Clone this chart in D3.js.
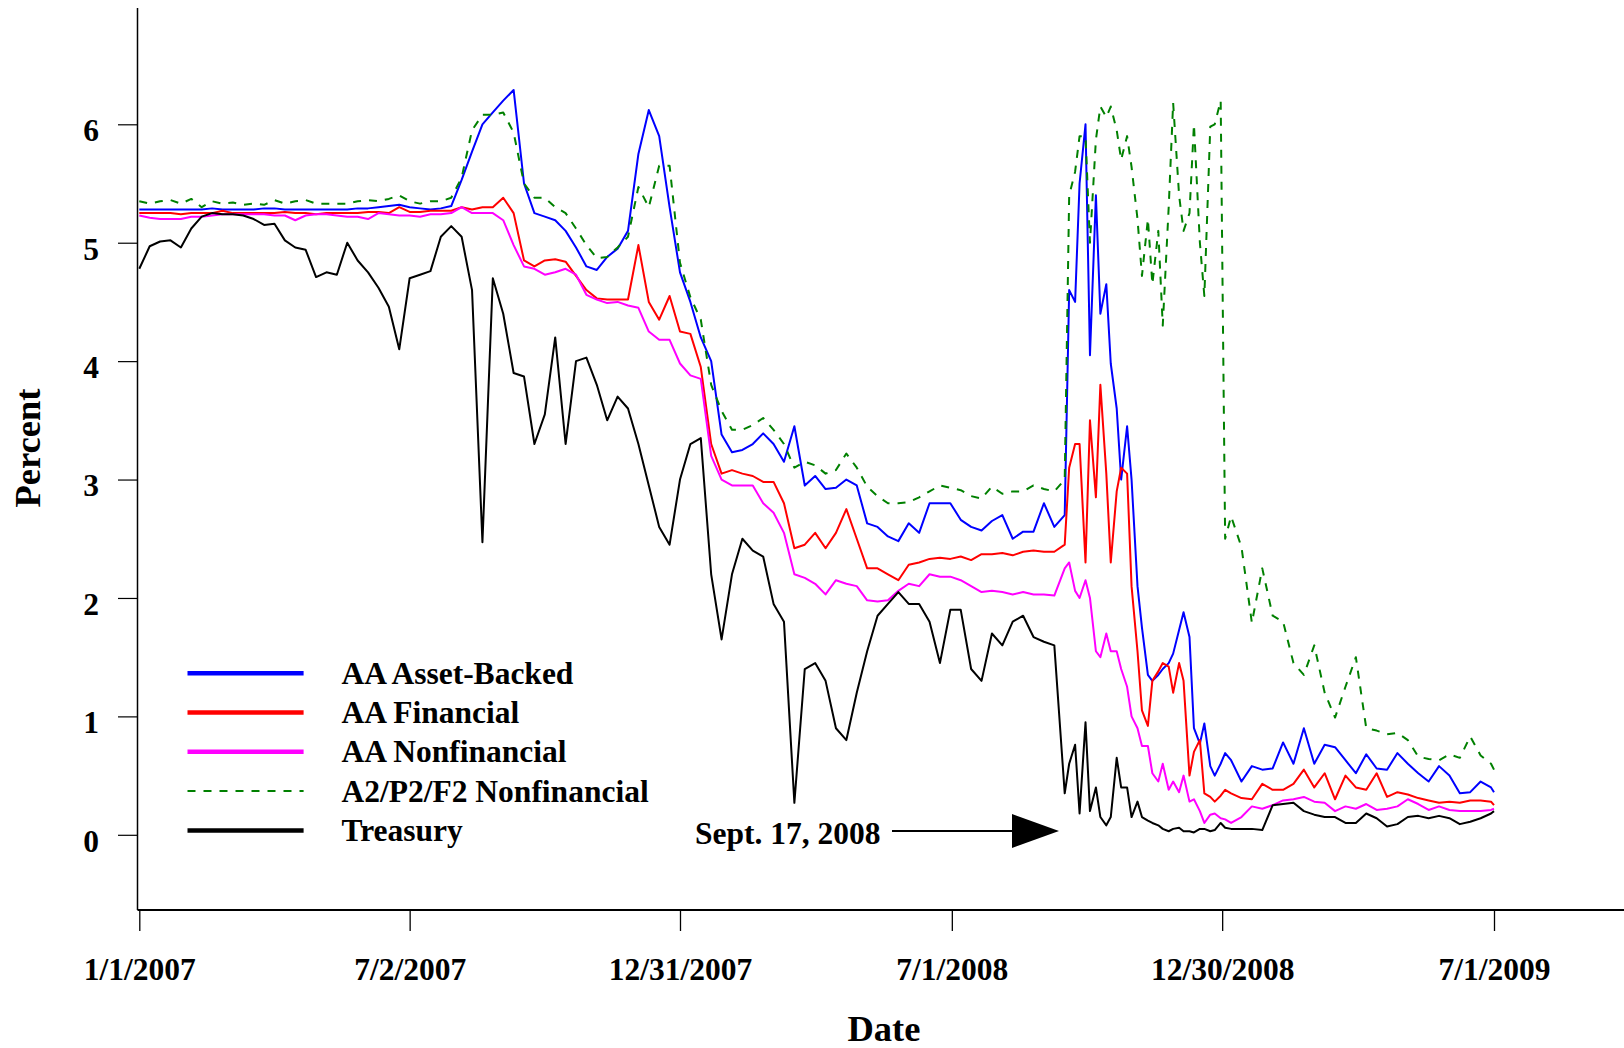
<!DOCTYPE html>
<html><head><meta charset="utf-8">
<script src="https://cdn.jsdelivr.net/npm/d3@7"></script>
<style>
html,body{margin:0;padding:0;background:#fff;}
svg{display:block;background:#fff;}
text{font-family:"Liberation Serif","Times New Roman",Times,serif;font-weight:bold;fill:#000;}
</style></head><body>
<svg id="chart" width="1624" height="1048"></svg>
<script>
// ---------- DATA ----------
const startDate = "2007-01-01";
// days since 1/1/2007 (weekly, twice weekly during the autumn 2008 turmoil)
const dayOffsets = [0,7,14,21,28,35,42,49,56,63,70,77,84,91,98,105,112,119,126,133,140,147,154,161,168,175,182,189,196,203,210,217,224,231,238,245,252,259,266,273,280,287,294,301,308,315,322,329,336,343,350,357,364,371,378,385,392,399,406,413,420,427,434,441,448,455,462,469,476,483,490,497,504,511,518,525,532,539,546,553,560,567,574,581,588,595,602,609,616,
623,626,630,633,637,640,644,647,651,654,658,661,665,668,672,675,679,682,686,689,693,696,700,703,707,710,714,717,721,724,728,731,735,
742,749,756,763,770,777,784,791,798,805,812,819,826,833,840,847,854,861,868,875,882,889,896,903,910,912];

const assetBacked = [5.28,5.28,5.28,5.28,5.28,5.28,5.28,5.29,5.28,5.28,5.28,5.28,5.29,5.29,5.28,5.28,5.28,5.28,5.28,5.28,5.28,5.29,5.29,5.30,5.31,5.32,5.30,5.29,5.28,5.29,5.31,
5.53,5.77,6.00,6.10,6.20,6.29,5.50,5.25,5.22,5.19,5.10,4.96,4.80,4.77,4.88,4.95,5.10,5.75,6.12,5.90,5.30,4.75,4.50,4.20,4.00,3.38,3.23,3.25,3.30,3.39,3.30,3.15,3.45,2.95,
3.03,2.92,2.93,3.00,2.95,2.63,2.60,2.52,2.48,2.63,2.55,2.80,2.80,2.80,2.66,2.60,2.57,2.65,2.70,2.50,2.56,2.56,2.80,2.60,
2.70,4.60,4.50,5.50,6.00,4.05,5.40,4.40,4.65,3.98,3.60,3.00,3.45,3.00,2.10,1.75,1.35,1.30,1.35,1.40,1.45,1.53,1.73,1.88,1.67,0.90,0.77,0.94,0.58,0.50,0.60,0.69,0.63,
0.45,0.58,0.55,0.56,0.78,0.60,0.90,0.60,0.76,0.74,0.63,0.52,0.68,0.56,0.55,0.69,0.60,0.52,0.45,0.58,0.50,0.35,0.36,0.45,0.40,0.36];

const financial = [5.25,5.25,5.25,5.25,5.24,5.25,5.25,5.25,5.27,5.25,5.25,5.25,5.25,5.25,5.26,5.25,5.25,5.24,5.25,5.25,5.25,5.25,5.26,5.26,5.25,5.30,5.26,5.26,5.27,5.27,5.27,
5.30,5.28,5.30,5.30,5.38,5.25,4.85,4.80,4.85,4.86,4.84,4.72,4.60,4.53,4.52,4.52,4.52,4.98,4.50,4.35,4.55,4.25,4.23,3.95,3.30,3.05,3.08,3.05,3.03,2.98,2.98,2.80,2.42,2.45,
2.55,2.42,2.55,2.75,2.50,2.25,2.25,2.20,2.15,2.28,2.30,2.33,2.34,2.33,2.35,2.32,2.37,2.37,2.38,2.36,2.39,2.40,2.39,2.39,
2.45,3.10,3.30,3.30,2.30,3.50,2.85,3.80,3.05,2.30,2.90,3.10,3.05,2.10,1.55,1.05,0.92,1.30,1.38,1.45,1.42,1.20,1.45,1.30,0.50,0.70,0.80,0.35,0.32,0.28,0.33,0.38,0.35,
0.31,0.30,0.43,0.38,0.38,0.43,0.55,0.40,0.52,0.30,0.50,0.40,0.38,0.52,0.32,0.36,0.34,0.31,0.29,0.27,0.28,0.27,0.29,0.29,0.28,0.25];

const nonfinancial = [5.23,5.21,5.20,5.20,5.20,5.22,5.22,5.23,5.24,5.24,5.24,5.24,5.24,5.23,5.23,5.19,5.23,5.24,5.24,5.23,5.22,5.22,5.20,5.25,5.24,5.23,5.23,5.22,5.24,5.24,5.25,
5.30,5.25,5.25,5.25,5.19,4.98,4.80,4.78,4.73,4.75,4.78,4.73,4.56,4.52,4.49,4.50,4.47,4.45,4.25,4.18,4.18,3.98,3.88,3.85,3.20,3.00,2.95,2.95,2.95,2.80,2.72,2.55,2.20,2.17,
2.12,2.03,2.15,2.12,2.10,1.98,1.97,1.98,2.06,2.12,2.10,2.20,2.18,2.18,2.15,2.10,2.05,2.06,2.05,2.03,2.05,2.03,2.03,2.02,
2.25,2.30,2.06,2.00,2.15,2.00,1.55,1.50,1.70,1.55,1.55,1.40,1.25,1.00,0.90,0.75,0.75,0.52,0.45,0.60,0.38,0.45,0.36,0.50,0.28,0.30,0.20,0.10,0.17,0.18,0.14,0.13,0.10,
0.15,0.24,0.22,0.25,0.29,0.30,0.32,0.28,0.27,0.20,0.24,0.22,0.26,0.21,0.22,0.24,0.30,0.26,0.21,0.24,0.21,0.20,0.20,0.20,0.21,0.22];

const a2p2Nonfinancial = [5.35,5.33,5.35,5.36,5.33,5.37,5.30,5.35,5.33,5.34,5.32,5.33,5.32,5.36,5.33,5.35,5.36,5.33,5.33,5.33,5.33,5.35,5.36,5.35,5.37,5.40,5.35,5.33,5.35,5.35,5.38,
5.55,5.95,6.08,6.08,6.10,5.93,5.50,5.38,5.38,5.30,5.25,5.12,4.98,4.87,4.88,4.96,5.05,5.47,5.30,5.65,5.65,4.83,4.54,4.35,3.80,3.58,3.42,3.42,3.46,3.52,3.42,3.30,3.10,3.15,
3.12,3.05,3.08,3.22,3.10,2.94,2.86,2.80,2.80,2.81,2.85,2.90,2.95,2.93,2.91,2.86,2.84,2.94,2.88,2.90,2.90,2.95,2.92,2.90,
3.00,5.40,5.60,5.90,5.90,5.00,5.87,6.15,6.06,6.15,5.95,5.70,5.90,5.64,5.20,4.72,5.20,4.65,5.10,4.30,5.30,6.18,5.40,5.10,5.25,6.00,5.00,4.55,5.98,6.00,6.20,2.50,2.69,
2.43,1.79,2.25,1.85,1.80,1.45,1.35,1.60,1.20,0.99,1.25,1.50,0.90,0.88,0.85,0.86,0.80,0.66,0.64,0.63,0.68,0.65,0.83,0.67,0.60,0.55];

const treasury = [4.78,4.97,5.01,5.02,4.96,5.12,5.22,5.25,5.24,5.24,5.23,5.20,5.15,5.16,5.02,4.96,4.94,4.71,4.75,4.73,5.00,4.85,4.75,4.62,4.46,4.10,4.70,4.73,4.76,5.05,5.14,5.05,
4.60,2.47,4.70,4.40,3.90,3.87,3.30,3.55,4.20,3.30,4.00,4.03,3.80,3.50,3.70,3.60,3.30,2.95,2.60,2.45,3.00,3.30,3.35,
2.20,1.65,2.20,2.50,2.40,2.35,1.95,1.80,0.27,1.40,
1.45,1.30,0.90,0.80,1.20,1.55,1.85,1.95,2.05,1.95,1.95,1.80,1.45,1.90,1.90,1.40,1.30,1.70,1.60,1.80,1.85,1.67,1.63,1.60,
0.35,0.60,0.76,0.18,0.95,0.20,0.40,0.15,0.08,0.15,0.65,0.40,0.40,0.15,0.28,0.15,0.12,0.10,0.08,0.05,0.03,0.05,0.06,0.03,0.03,0.02,0.05,0.05,0.03,0.04,0.10,0.06,0.05,
0.05,0.05,0.04,0.25,0.26,0.27,0.20,0.17,0.15,0.15,0.10,0.10,0.18,0.14,0.07,0.09,0.15,0.16,0.14,0.16,0.14,0.09,0.11,0.14,0.18,0.20];

const seriesNames = ["AA Asset-Backed","AA Financial","AA Nonfinancial","A2/P2/F2 Nonfinancial","Treasury"];
const xTickDates = ["2007-01-01","2007-07-02","2007-12-31","2008-07-01","2008-12-30","2009-07-01"];
const xTickLabels = ["1/1/2007","7/2/2007","12/31/2007","7/1/2008","12/30/2008","7/1/2009"];
const yTickValues = [0,1,2,3,4,5,6];
const annotationText = "Sept. 17, 2008";

// ---------- STYLE ----------
const seriesColors = ["#0000ff","#ff0000","#ff00ff","#008000","#000000"];
const seriesDash = [null,null,null,"8,8",null];
const FS = 31.5, TITLE_FS = 36.5;

// ---------- CHART ----------
const svg = d3.select("#chart");
const parse = d3.utcParse("%Y-%m-%d");
const t0 = parse(startDate);
const dates = dayOffsets.map(d => d3.utcDay.offset(t0, d));

const x = d3.scaleUtc().domain([parse("2007-01-01"), parse("2009-07-01")]).range([139.3, 1494]);
const y = d3.scaleLinear().domain([0, 6]).range([834.8, 124.3]);

const allSeries = [assetBacked, financial, nonfinancial, a2p2Nonfinancial, treasury];

const line = d3.line().x((d,i) => x(dates[i])).y(d => y(d)).curve(d3.curveLinear);

const plot = svg.append("g");
allSeries.forEach((vals, si) => {
  plot.append("path")
    .datum(vals)
    .attr("d", line)
    .attr("fill", "none")
    .attr("stroke", seriesColors[si])
    .attr("stroke-width", 2)
    .attr("stroke-linejoin", "round")
    .attr("stroke-dasharray", seriesDash[si]);
});

// axes frame lines
svg.append("line").attr("x1", 137.5).attr("x2", 137.5).attr("y1", 8).attr("y2", 910)
  .attr("stroke", "#000").attr("stroke-width", 1.5);
svg.append("line").attr("x1", 137.5).attr("x2", 1624).attr("y1", 910).attr("y2", 910)
  .attr("stroke", "#000").attr("stroke-width", 2.2);

// x axis
const xAxis = d3.axisBottom(x)
  .tickValues(xTickDates.map(parse))
  .tickFormat((d, i) => xTickLabels[i])
  .tickSize(21).tickPadding(27);
const gx = svg.append("g").attr("transform", "translate(0,910)").call(xAxis);
gx.select(".domain").remove();
gx.selectAll(".tick line").attr("stroke", "#000").attr("stroke-width", 1.3);
gx.selectAll(".tick text").attr("font-size", FS).attr("font-family", null)
  .attr("fill", "#000").attr("dy", "0.71em");

// y axis
const yAxis = d3.axisLeft(y).tickValues(yTickValues).tickFormat(d3.format("d"))
  .tickSize(19.5).tickPadding(19);
const gy = svg.append("g").attr("transform", "translate(137.5,0)").call(yAxis);
gy.select(".domain").remove();
gy.selectAll(".tick line").attr("stroke", "#000").attr("stroke-width", 1.2);
gy.selectAll(".tick text").attr("font-size", FS).attr("font-family", null)
  .attr("fill", "#000").attr("dy", "0.52em");

// axis titles
svg.append("text").attr("x", 884).attr("y", 1041).attr("text-anchor", "middle")
  .attr("font-size", TITLE_FS).text("Date");
svg.append("text").attr("transform", "translate(40,448) rotate(-90)").attr("text-anchor", "middle")
  .attr("font-size", TITLE_FS).text("Percent");

// legend
const legend = svg.append("g");
seriesNames.forEach((name, i) => {
  const ly = 673.2 + i * 39.3;
  legend.append("line").attr("x1", 187.5).attr("x2", 303.6).attr("y1", ly).attr("y2", ly)
    .attr("stroke", seriesColors[i])
    .attr("stroke-width", seriesDash[i] ? 2 : 4.5)
    .attr("stroke-dasharray", seriesDash[i]);
  legend.append("text").attr("x", 341.5).attr("y", ly + 10.5).attr("font-size", FS).text(name);
});

// annotation
const ann = svg.append("g");
ann.append("text").attr("x", 695).attr("y", 844).attr("font-size", FS).text(annotationText);
ann.append("line").attr("x1", 892).attr("x2", 1013).attr("y1", 831).attr("y2", 831)
  .attr("stroke", "#000").attr("stroke-width", 2);
ann.append("path").attr("d", d3.line()([[1012,814],[1059,831],[1012,848]]) + "Z").attr("fill", "#000");
</script>
</body></html>
